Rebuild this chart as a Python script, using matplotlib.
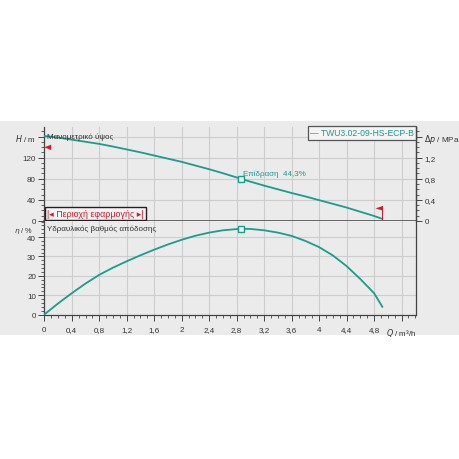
import matplotlib
matplotlib.use("Agg")
import matplotlib.pyplot as plt
from matplotlib.patches import Rectangle, Polygon
from matplotlib.ticker import MultipleLocator, FixedLocator, FixedFormatter
import matplotlib.transforms as mtransforms

plt.rcParams['font.family'] = ['Liberation Sans', 'DejaVu Sans']

# ---- data ----
q_head = [0, 0.2, 0.4, 0.6, 0.8, 1.0, 1.2, 1.4, 1.6, 1.8, 2.0, 2.2, 2.4, 2.6, 2.86,
          3.0, 3.2, 3.4, 3.6, 3.8, 4.0, 4.2, 4.4, 4.6, 4.8, 4.92]
head_m = [161, 158, 154, 150, 146, 141, 135.5, 130, 124, 118, 112, 105, 98, 90.5, 80,
          74.5, 67, 60, 53, 46.5, 39.5, 32.5, 25.5, 17.5, 9.5, 4]
q_eff = [0, 0.2, 0.4, 0.6, 0.8, 1.0, 1.2, 1.4, 1.6, 1.8, 2.0, 2.2, 2.4, 2.6, 2.86,
         3.0, 3.2, 3.4, 3.6, 3.8, 4.0, 4.2, 4.4, 4.6, 4.8, 4.92]
eff_pct = [0, 5.7, 11, 16, 20.5, 24.2, 27.5, 30.6, 33.5, 36.2, 38.6, 40.7, 42.3, 43.5, 44.3,
           44.2, 43.5, 42.3, 40.6, 38, 34.8, 30.5, 25, 18.3, 11, 4]
duty_q = 2.86
duty_h = 80
duty_eff = 44.3
min_head_marker = 139.5
max_q_marker = 4.92

x_ticks = [0, 0.4, 0.8, 1.2, 1.6, 2.0, 2.4, 2.8, 3.2, 3.6, 4.0, 4.4, 4.8, 5.2]
x_labels = ['0', '0,4', '0,8', '1,2', '1,6', '2', '2,4', '2,8', '3,2', '3,6', '4', '4,4', '4,8', '$Q$ / m³/h']
h_ticks = [0, 40, 80, 120, 160]
h_labels = ['0', '40', '80', '120', '$H$ / m']
p_ticks = [0, 0.4, 0.8, 1.2, 1.6]
p_labels = ['0', '0,4', '0,8', '1,2', '$Δp$ / MPa']
e_ticks = [0, 10, 20, 30, 40]
e_labels = ['0', '10', '20', '30', '40']

teal = '#14a08a'
red = '#e8101e'
grid_c = '#cdcdcd'
spine_c = '#444444'
txt_c = '#333333'
fs = 5.8

fig = plt.figure(figsize=(4.6, 4.6), dpi=100)
fig.patch.set_facecolor('white')
fig.add_artist(Rectangle((0, 1 - 336 / 460), 1, (336 - 122) / 460, transform=fig.transFigure,
                         facecolor='#ebebeb', edgecolor='none', zorder=0))

L = 44.3 / 460
W = (416 - 44.3) / 460
ax1 = fig.add_axes([L, 1 - 222 / 460, W, (222 - 128) / 460])
ax2 = fig.add_axes([L, 1 - 315.5 / 460, W, (315.5 - 222) / 460])

for ax in (ax1, ax2):
    ax.set_facecolor('#ebebeb')
    ax.set_xlim(0, 5.41)
    ax.xaxis.set_major_locator(FixedLocator(x_ticks))
    ax.xaxis.set_minor_locator(MultipleLocator(0.1))
    ax.grid(True, which='major', color=grid_c, lw=0.8)
    ax.set_axisbelow(True)
    ax.spines['top'].set_visible(False)
    for s in ('left', 'right', 'bottom'):
        ax.spines[s].set_color(spine_c)
        ax.spines[s].set_linewidth(0.9)
    ax.tick_params(which='both', colors=spine_c, labelcolor=txt_c, labelsize=fs, direction='out', pad=2)
    ax.tick_params(which='major', length=4, width=0.7)
    ax.tick_params(which='minor', length=2.5, width=0.6)

# --- top axes: head ---
ax1.set_ylim(0, 178)
ax1.yaxis.set_major_locator(FixedLocator(h_ticks))
ax1.yaxis.set_major_formatter(FixedFormatter(h_labels))
ax1.yaxis.set_minor_locator(MultipleLocator(10))
ax1.tick_params(axis='x', which='both', bottom=False, labelbottom=False)
ax1.spines['bottom'].set_linewidth(1.1)
ax1.plot(q_head, head_m, color=teal, lw=1.3, zorder=3, solid_joinstyle='round')
ax1.plot([duty_q], [duty_h], marker='s', ms=4.5, mfc='#f2f2f2', mec=teal, mew=1.0, zorder=4)
ax1.text(duty_q + 0.03, duty_h + 3, 'Επίδραση  44,3%', color=teal, fontsize=fs, ha='left', va='bottom')
ax1.text(0.04, 160, 'Μανομετρικό ύψος', color=txt_c, fontsize=fs, ha='left', va='center')

# left red triangle (minimum head)
ax1.add_patch(Polygon([[0.0, min_head_marker], [0.1, min_head_marker + 5], [0.1, min_head_marker - 5]],
                      closed=True, facecolor=red, edgecolor='none', zorder=5, clip_on=False))
# right red flag (max flow)
ax1.plot([max_q_marker, max_q_marker], [4, 28], color=red, lw=0.7, zorder=5)
ax1.add_patch(Polygon([[max_q_marker, 28], [max_q_marker, 20], [max_q_marker - 0.1, 24]],
                      closed=True, facecolor=red, edgecolor='none', zorder=5))

# application range box
ax1.text(0.04, 6, '|◂ Περιοχή εφαρμογής ▸|', color=red, fontsize=fs + 0.6, ha='left', va='bottom',
         bbox=dict(boxstyle='square,pad=0.25', facecolor='#f4f4f4', edgecolor='#222222', lw=1.0),
         family=['Liberation Sans', 'DejaVu Sans'], zorder=6)

# legend box
ax1.text(0.995, 0.985, '— TWU3.02-09-HS-ECP-B', color=teal, fontsize=fs + 0.4, ha='right', va='top',
         transform=ax1.transAxes,
         bbox=dict(boxstyle='square,pad=0.25', facecolor='#f4f4f4', edgecolor='#555555', lw=0.9), zorder=6)

# right axis pressure
axp = ax1.twinx()
axp.set_ylim(0, 1.78)
axp.yaxis.set_major_locator(FixedLocator(p_ticks))
axp.yaxis.set_major_formatter(FixedFormatter(p_labels))
axp.yaxis.set_minor_locator(MultipleLocator(0.1))
for s in ('left', 'top', 'bottom'):
    axp.spines[s].set_visible(False)
axp.spines['right'].set_color(spine_c)
axp.spines['right'].set_linewidth(0.9)
axp.tick_params(which='both', colors=spine_c, labelcolor=txt_c, labelsize=fs, direction='out', pad=2)
axp.tick_params(which='major', length=4, width=0.7)
axp.tick_params(which='minor', length=2.5, width=0.6)

# --- bottom axes: efficiency ---
ax2.set_ylim(0, 48.3)
ax2.yaxis.set_major_locator(FixedLocator(e_ticks))
ax2.yaxis.set_major_formatter(FixedFormatter(e_labels))
ax2.yaxis.set_minor_locator(MultipleLocator(2))
ax2.xaxis.set_major_formatter(FixedFormatter(x_labels))
ax2.tick_params(axis='x', which='major', pad=4)
ax2.plot(q_eff, eff_pct, color=teal, lw=1.3, zorder=3, solid_joinstyle='round')
ax2.plot([duty_q], [duty_eff], marker='s', ms=4.5, mfc='#f2f2f2', mec=teal, mew=1.0, zorder=4)
ax2.text(0.04, 44.3, 'Υδραυλικός βαθμός απόδοσης', color=txt_c, fontsize=fs, ha='left', va='center')
trans = mtransforms.blended_transform_factory(ax2.transAxes, ax2.transData)
ax2.text(-0.03, 43.4, '$η$ / %', color=txt_c, fontsize=fs - 0.5, ha='right', va='center', transform=trans)

fig.savefig('out.png', dpi=100, facecolor='white')
